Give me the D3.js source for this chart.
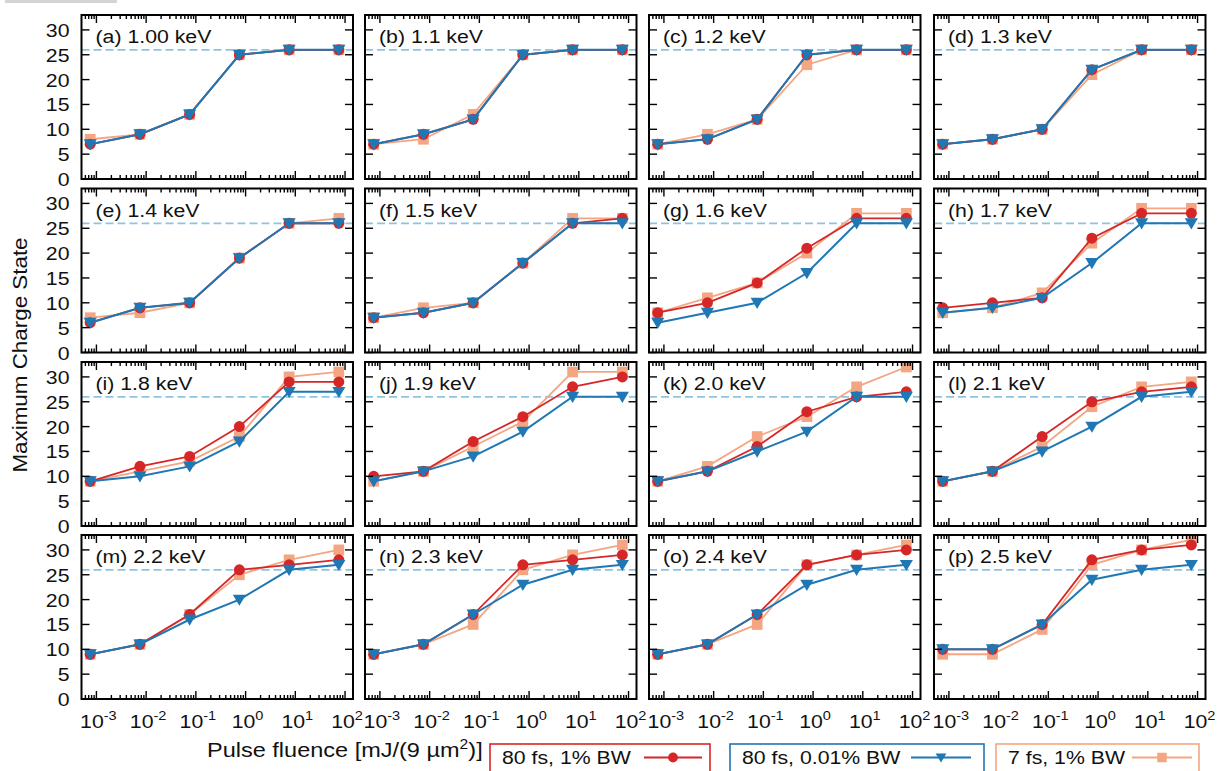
<!DOCTYPE html>
<html>
<head>
<meta charset="utf-8">
<script src="https://cdn.jsdelivr.net/npm/d3@7/dist/d3.min.js"></script>
<style>
  html, body { margin: 0; padding: 0; background: #fff; }
  svg { display: block; font-family: "Liberation Sans", Arial, Helvetica, sans-serif; }
</style>
</head>
<body>
<svg id="chart" width="1217" height="771"></svg>
<script>
// Pulse fluence sample points (mJ per 9 µm²)
const fluence = [7.5e-4, 7.5e-3, 7.5e-2, 0.75, 7.5, 75];

// Panel titles
const panelLetters = ["a","b","c","d","e","f","g","h","i","j","k","l","m","n","o","p"];
const photonEnergies = ["1.00","1.1","1.2","1.3","1.4","1.5","1.6","1.7",
                        "1.8","1.9","2.0","2.1","2.2","2.3","2.4","2.5"];

// Maximum charge state, 80 fs pulse, 1% bandwidth
const charge80fs1BW = [
  [7, 9, 13, 25, 26, 26],
  [7, 9, 12, 25, 26, 26],
  [7, 8, 12, 25, 26, 26],
  [7, 8, 10, 22, 26, 26],
  [6, 9, 10, 19, 26, 26],
  [7, 8, 10, 18, 26, 27],
  [8, 10, 14, 21, 27, 27],
  [9, 10, 11, 23, 28, 28],
  [9, 12, 14, 20, 29, 29],
  [10, 11, 17, 22, 28, 30],
  [9, 11, 16, 23, 26, 27],
  [9, 11, 18, 25, 27, 28],
  [9, 11, 17, 26, 27, 28],
  [9, 11, 17, 27, 28, 29],
  [9, 11, 17, 27, 29, 30],
  [10, 10, 15, 28, 30, 31]
];

// Maximum charge state, 80 fs pulse, 0.01% bandwidth
const charge80fs001BW = [
  [7, 9, 13, 25, 26, 26],
  [7, 9, 12, 25, 26, 26],
  [7, 8, 12, 25, 26, 26],
  [7, 8, 10, 22, 26, 26],
  [6, 9, 10, 19, 26, 26],
  [7, 8, 10, 18, 26, 26],
  [6, 8, 10, 16, 26, 26],
  [8, 9, 11, 18, 26, 26],
  [9, 10, 12, 17, 27, 27],
  [9, 11, 14, 19, 26, 26],
  [9, 11, 15, 19, 26, 26],
  [9, 11, 15, 20, 26, 27],
  [9, 11, 16, 20, 26, 27],
  [9, 11, 17, 23, 26, 27],
  [9, 11, 17, 23, 26, 27],
  [10, 10, 15, 24, 26, 27]
];

// Maximum charge state, 7 fs pulse, 1% bandwidth
const charge7fs1BW = [
  [8, 9, 13, 25, 26, 26],
  [7, 8, 13, 25, 26, 26],
  [7, 9, 12, 23, 26, 26],
  [7, 8, 10, 21, 26, 26],
  [7, 8, 10, 19, 26, 27],
  [7, 9, 10, 18, 27, 27],
  [8, 11, 14, 20, 28, 28],
  [8, 9, 12, 22, 29, 29],
  [9, 11, 13, 18, 30, 31],
  [9, 11, 16, 21, 31, 31],
  [9, 12, 18, 22, 28, 32],
  [9, 11, 16, 24, 28, 29],
  [9, 11, 17, 25, 28, 30],
  [9, 11, 15, 26, 29, 31],
  [9, 11, 15, 27, 29, 31],
  [9, 9, 14, 27, 30, 32]
];

// Axis ticks and reference level
const xTickValues = [1e-3, 1e-2, 1e-1, 1e0, 1e1, 1e2];
const xTickExponents = ["-3", "-2", "-1", "0", "1", "2"];
const yTickValues = [0, 5, 10, 15, 20, 25, 30];
const referenceCharge = 26;

// Series styling
const seriesList = [
  { name: "7 fs, 1% BW",     data: charge7fs1BW,    color: "#f4a582", width: 1.8, symbol: "square" },
  { name: "80 fs, 1% BW",    data: charge80fs1BW,   color: "#d62728", width: 1.8, symbol: "circle" },
  { name: "80 fs, 0.01% BW", data: charge80fs001BW, color: "#1f77b4", width: 2.0, symbol: "triangle" }
];

const svg = d3.select("#chart");
svg.append("rect").attr("width", 1217).attr("height", 771).attr("fill", "#fff");
svg.append("rect").attr("x", 5).attr("y", 0).attr("width", 112).attr("height", 3).attr("fill", "#d4d4d4");

// The lettering is a slightly wide Helvetica; stretch Liberation Sans horizontally
const TEXT_STRETCH = 1.12;
function addText(parent, px, py, size, anchor) {
  return parent.append("text")
    .attr("transform", `translate(${px},${py}) scale(${TEXT_STRETCH},1)`)
    .attr("font-size", size).attr("fill", "#111")
    .attr("text-anchor", anchor || "start");
}

// Grid of panels
const colLeft = [81.5, 365, 649, 934];
const rowTop = [15, 188.5, 362, 535];
const panelW = 271.5, panelH = 164;

const x = d3.scaleLog().domain([Math.pow(10, -3.30), Math.pow(10, 2.16)]).range([0, panelW]);
const y = d3.scaleLinear().domain([0, 33]).range([panelH, 0]);

// Minor log ticks (2..9 within each decade)
const minorTicks = [];
for (let e = -4; e <= 2; e++) {
  for (let m = 2; m <= 9; m++) {
    const v = m * Math.pow(10, e);
    if (v > x.domain()[0] && v < x.domain()[1]) minorTicks.push(v);
  }
}

function markerPath(symbol, size) {
  if (symbol === "circle") return d3.symbol(d3.symbolCircle, size)();
  if (symbol === "square") return d3.symbol(d3.symbolSquare, size)();
  // downward pointing triangle
  const s = Math.sqrt(size) * 0.85;
  return `M${-s},${-s * 0.75}L${s},${-s * 0.75}L0,${s * 0.95}Z`;
}
const markerSize = { circle: 95, square: 115, triangle: 60 };

panelLetters.forEach((letter, i) => {
  const col = i % 4, row = Math.floor(i / 4);
  const g = svg.append("g").attr("transform", `translate(${colLeft[col]},${rowTop[row]})`);

  // reference charge level
  g.append("line")
    .attr("x1", 0).attr("x2", panelW)
    .attr("y1", y(referenceCharge)).attr("y2", y(referenceCharge))
    .attr("stroke", "#8ec4e2").attr("stroke-width", 1.8)
    .attr("stroke-dasharray", "8,4");

  // series
  const line = d3.line().x((d, k) => x(fluence[k])).y(d => y(d));
  seriesList.forEach(s => {
    const vals = s.data[i];
    g.append("path").attr("d", line(vals))
      .attr("fill", "none").attr("stroke", s.color).attr("stroke-width", s.width);
    g.selectAll(null).data(vals).enter().append("path")
      .attr("d", markerPath(s.symbol, markerSize[s.symbol]))
      .attr("transform", (d, k) => `translate(${x(fluence[k])},${y(d)})`)
      .attr("fill", s.color);
  });

  // ticks: x major/minor top and bottom, y major left and right (inward)
  const tk = g.append("g").attr("stroke", "#000").attr("stroke-width", 1.4);
  xTickValues.forEach(v => {
    tk.append("line").attr("x1", x(v)).attr("x2", x(v)).attr("y1", panelH).attr("y2", panelH - 8);
    tk.append("line").attr("x1", x(v)).attr("x2", x(v)).attr("y1", 0).attr("y2", 8);
  });
  minorTicks.forEach(v => {
    tk.append("line").attr("x1", x(v)).attr("x2", x(v)).attr("y1", panelH).attr("y2", panelH - 4);
    tk.append("line").attr("x1", x(v)).attr("x2", x(v)).attr("y1", 0).attr("y2", 4);
  });
  yTickValues.forEach(v => {
    tk.append("line").attr("x1", 0).attr("x2", 8).attr("y1", y(v)).attr("y2", y(v));
    tk.append("line").attr("x1", panelW).attr("x2", panelW - 8).attr("y1", y(v)).attr("y2", y(v));
  });

  // frame
  g.append("rect").attr("width", panelW).attr("height", panelH)
    .attr("fill", "none").attr("stroke", "#000").attr("stroke-width", 2);

  // panel title
  addText(g, 14, 28, 19).text(`(${letter}) ${photonEnergies[i]} keV`);

  // y tick labels on first column
  if (col === 0) {
    yTickValues.forEach(v => {
      addText(g, -12, y(v) + 7, 19, "end").text(v);
    });
  }
  // x tick labels on bottom row
  if (row === 3) {
    xTickValues.forEach((v, k) => {
      const t = addText(g, x(v) + 2, panelH + 29, 19, "middle");
      t.append("tspan").text("10");
      t.append("tspan").attr("dy", -8).attr("font-size", 13).text(xTickExponents[k]);
    });
  }
});

// Axis titles
svg.append("text")
  .attr("transform", `translate(27,355) rotate(-90) scale(${TEXT_STRETCH},1)`)
  .attr("text-anchor", "middle").attr("font-size", 20).attr("fill", "#111")
  .text("Maximum Charge State");

const xt = addText(svg, 207, 757, 21);
xt.append("tspan").text("Pulse fluence [mJ/(9 µm");
xt.append("tspan").attr("dy", -8).attr("font-size", 14).text("2");
xt.append("tspan").attr("dy", 8).text(")]");

// Legend boxes
const legendBoxes = [
  { series: seriesList[1], x0: 490, x1: 710, l0: 644, l1: 702 },
  { series: seriesList[2], x0: 730, x1: 984, l0: 911, l1: 971 },
  { series: seriesList[0], x0: 996, x1: 1199, l0: 1132, l1: 1192 }
];
const legendSymbolSize = { circle: 75, square: 90, triangle: 40 };
legendBoxes.forEach(b => {
  const s = b.series;
  svg.append("rect").attr("x", b.x0).attr("y", 744).attr("width", b.x1 - b.x0).attr("height", 32)
    .attr("fill", "none").attr("stroke", s.color).attr("stroke-width", 1.6);
  addText(svg, b.x0 + 12, 764, 19).text(s.name);
  svg.append("line").attr("x1", b.l0).attr("x2", b.l1).attr("y1", 757.5).attr("y2", 757.5)
    .attr("stroke", s.color).attr("stroke-width", s.width);
  svg.append("path").attr("d", markerPath(s.symbol, legendSymbolSize[s.symbol]))
    .attr("transform", `translate(${(b.l0 + b.l1) / 2},757.5)`).attr("fill", s.color);
});
</script>
</body>
</html>
